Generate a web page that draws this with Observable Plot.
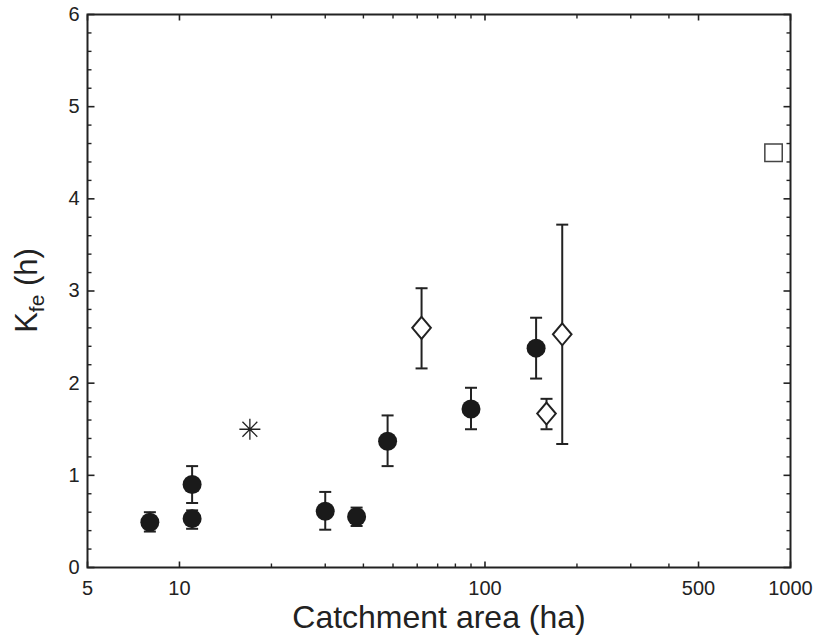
<!DOCTYPE html>
<html>
<head>
<meta charset="utf-8">
<script src="https://cdn.jsdelivr.net/npm/d3@7"></script>
<script src="https://cdn.jsdelivr.net/npm/@observablehq/plot@0.6"></script>
<style>
  html, body { margin: 0; padding: 0; background: #fff; }
  #chart svg { display: block; font-family: "Liberation Sans", Arial, Helvetica, sans-serif; }
</style>
</head>
<body>
<div id="chart"></div>
<script>
// ---- data ----
const circleX  = [8, 11, 11, 30, 38, 48, 90, 147];
const circleY  = [0.49, 0.53, 0.90, 0.61, 0.55, 1.37, 1.72, 2.38];
const circleLo = [0.39, 0.42, 0.70, 0.41, 0.45, 1.10, 1.50, 2.05];
const circleHi = [0.60, 0.62, 1.10, 0.82, 0.65, 1.65, 1.95, 2.71];

const diamondX  = [62, 159, 179];
const diamondY  = [2.60, 1.67, 2.53];
const diamondLo = [2.16, 1.50, 1.34];
const diamondHi = [3.03, 1.83, 3.72];

const starX = [17];
const starY = [1.5];

const squareX = [880];
const squareY = [4.5];

// ---- ticks ----
const xMajor = [5, 10, 100, 500, 1000];
const xMajorLabels = ["5", "10", "100", "500", "1000"];
const xMinor = [20, 30, 40, 50, 60, 70, 80, 90, 200, 300, 400];
const yMajor = [0, 1, 2, 3, 4, 5, 6];
const yMajorLabels = ["0", "1", "2", "3", "4", "5", "6"];
const yMinor = [0.2, 0.4, 0.6, 0.8, 1.2, 1.4, 1.6, 1.8, 2.2, 2.4, 2.6, 2.8,
                3.2, 3.4, 3.6, 3.8, 4.2, 4.4, 4.6, 4.8, 5.2, 5.4, 5.6, 5.8];
const xDomain = [5, 1000];
const yDomain = [0, 6];

const xLabel = "Catchment area (ha)";

// ---- tables built from the arrays ----
const circles = circleX.map((x, i) => ({x, y: circleY[i], lo: circleLo[i], hi: circleHi[i]}));
const diamonds = diamondX.map((x, i) => ({x, y: diamondY[i], lo: diamondLo[i], hi: diamondHi[i]}));
const stars = starX.map((x, i) => ({x, y: starY[i]}));
const squares = squareX.map((x, i) => ({x, y: squareY[i]}));
const bars = [...circles, ...diamonds];
const caps = bars.flatMap(d => [{x: d.x, y: d.lo}, {x: d.x, y: d.hi}]);

// ---- custom symbols ----
const rOf = size => Math.sqrt(size / Math.PI);
const capSymbol = { draw(ctx, size) { const r = rOf(size); ctx.moveTo(-r, 0); ctx.lineTo(r, 0); } };
const diamondSymbol = { draw(ctx, size) { const r = rOf(size); const h = r * 1.18;
  ctx.moveTo(0, -h); ctx.lineTo(r, 0); ctx.lineTo(0, h); ctx.lineTo(-r, 0); ctx.closePath(); } };
const squareSymbol = { draw(ctx, size) { const r = rOf(size); ctx.rect(-r, -r, 2 * r, 2 * r); } };
const starSymbol = { draw(ctx, size) { const r = rOf(size); const d = r * Math.SQRT1_2;
  ctx.moveTo(-r, 0); ctx.lineTo(r, 0); ctx.moveTo(0, -r); ctx.lineTo(0, r);
  ctx.moveTo(-d, -d); ctx.lineTo(d, d); ctx.moveTo(-d, d); ctx.lineTo(d, -d); } };
// inward tick symbols (length = r)
const tickUp    = { draw(ctx, size) { const r = rOf(size); ctx.moveTo(0, 0); ctx.lineTo(0, -r); } };
const tickDown  = { draw(ctx, size) { const r = rOf(size); ctx.moveTo(0, 0); ctx.lineTo(0, r); } };
const tickRight = { draw(ctx, size) { const r = rOf(size); ctx.moveTo(0, 0); ctx.lineTo(r, 0); } };
const tickLeft  = { draw(ctx, size) { const r = rOf(size); ctx.moveTo(0, 0); ctx.lineTo(-r, 0); } };

const ink = "#222";
const font = "'Liberation Sans', Arial, Helvetica, sans-serif";

function xTicks(values, len, sw) {
  return [
    Plot.dot(values, { x: d => d, y: () => yDomain[0], symbol: tickUp, r: len, stroke: ink, strokeWidth: sw, fill: "none" }),
    Plot.dot(values, { x: d => d, y: () => yDomain[1], symbol: tickDown, r: len, stroke: ink, strokeWidth: sw, fill: "none" })
  ];
}
function yTicks(values, len, sw) {
  return [
    Plot.dot(values, { y: d => d, x: () => xDomain[0], symbol: tickRight, r: len, stroke: ink, strokeWidth: sw, fill: "none" }),
    Plot.dot(values, { y: d => d, x: () => xDomain[1], symbol: tickLeft, r: len, stroke: ink, strokeWidth: sw, fill: "none" })
  ];
}

const chart = Plot.plot({
  width: 815,
  height: 637,
  marginLeft: 87,
  marginRight: 25,
  marginTop: 14,
  marginBottom: 70,
  style: { fontFamily: font, color: ink, background: "#fff" },
  x: { type: "log", domain: xDomain, axis: null },
  y: { domain: yDomain, axis: null },
  marks: [
    // inward ticks
    ...xTicks(xMajor, 6, 1.6),
    ...xTicks(xMinor, 4, 1.4),
    ...yTicks(yMajor, 7, 1.6),
    ...yTicks(yMinor, 4, 1.4),
    Plot.frame({ stroke: ink, strokeWidth: 2 }),
    // tick labels
    Plot.text(xMajor, { x: d => d, text: (d, i) => xMajorLabels[i], frameAnchor: "bottom", lineAnchor: "middle", dy: 21.5, fontSize: 20, fill: ink }),
    Plot.text(yMajor, { y: d => d, text: (d, i) => yMajorLabels[i], frameAnchor: "left", lineAnchor: "middle", dx: -8, textAnchor: "end", fontSize: 20, fill: ink }),
    // error bars
    Plot.ruleX(bars, { x: "x", y1: "lo", y2: "hi", stroke: ink, strokeWidth: 2 }),
    Plot.dot(caps, { x: "x", y: "y", symbol: capSymbol, r: 6, stroke: ink, strokeWidth: 2, fill: "none" }),
    // markers
    Plot.dot(circles, { x: "x", y: "y", r: 9.5, fill: "#1a1a1a", stroke: "none" }),
    Plot.dot(diamonds, { x: "x", y: "y", symbol: diamondSymbol, r: 9.3, fill: "#fff", stroke: ink, strokeWidth: 2 }),
    Plot.dot(stars, { x: "x", y: "y", symbol: starSymbol, r: 10.5, fill: "none", stroke: ink, strokeWidth: 1.3 }),
    Plot.dot(squares, { x: "x", y: "y", symbol: squareSymbol, r: 8.7, fill: "#fff", stroke: "#444", strokeWidth: 1.5 }),
    // x axis title
    Plot.text([xLabel], { frameAnchor: "bottom", lineAnchor: "middle", text: d => d, dy: 50, fontSize: 32, fill: ink })
  ]
});

document.getElementById("chart").appendChild(chart);

// y axis title with subscript
const svg = d3.select(chart.tagName.toLowerCase() === "svg" ? chart : chart.querySelector("svg"));
const cy = 14 + (637 - 14 - 70) / 2;
const t = svg.append("text")
  .attr("transform", `translate(37,${cy}) rotate(-90)`)
  .attr("text-anchor", "middle")
  .attr("fill", ink)
  .attr("font-size", 31)
  .attr("font-family", font);
t.append("tspan").text("K");
t.append("tspan").attr("font-size", 21).attr("dy", 7).text("fe");
t.append("tspan").attr("dy", -7).text(" (h)");
</script>
</body>
</html>
